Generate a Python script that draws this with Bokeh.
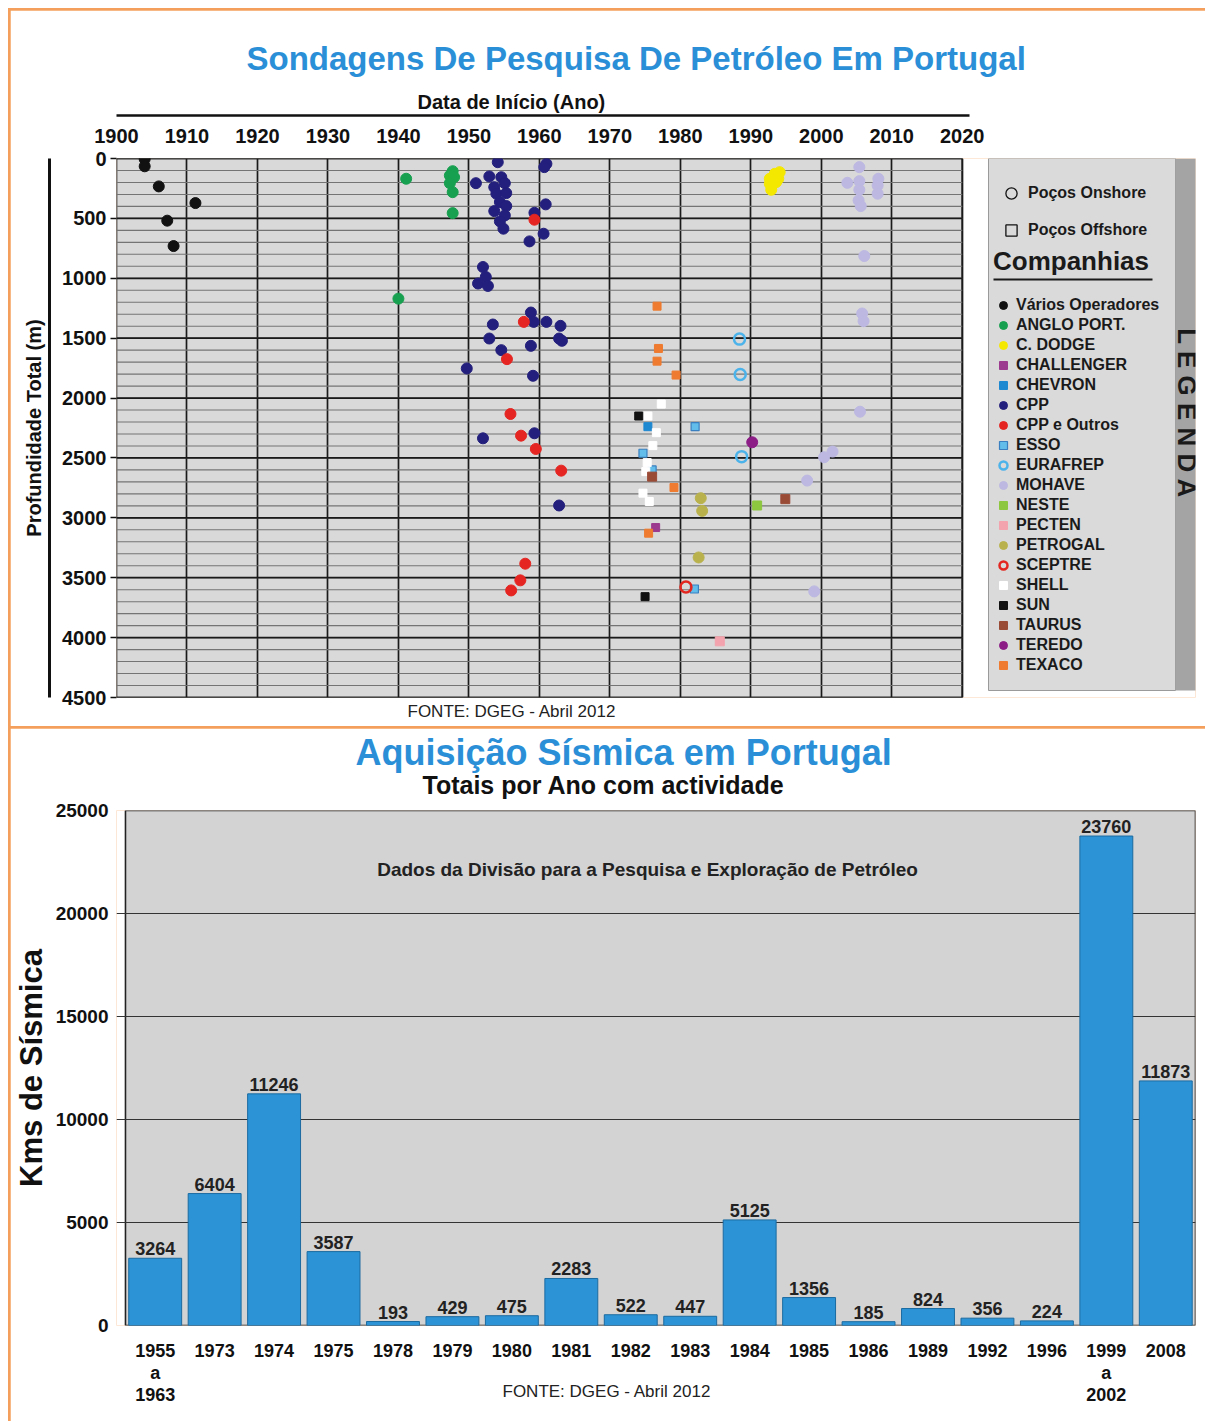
import math
from bokeh.plotting import figure
from bokeh.layouts import column
from bokeh.core.properties import value
from bokeh.models import (LinearAxis, FixedTicker, Grid, Title, Legend, Range1d,
                          LegendItem, BoxAnnotation, Label, LabelSet, ColumnDataSource)
from bokeh.embed import file_html
from bokeh.resources import INLINE

FONT = "Liberation Sans"
AZUL = "#2b8fd8"
LARANJA = "#f4a05c"
NAN = float("nan")

# ---------------- Sondagens (ano de início, profundidade total m) ----------------
anos_ticks = [1900, 1910, 1920, 1930, 1940, 1950, 1960, 1970, 1980, 1990, 2000, 2010, 2020]
prof_ticks = [0, 500, 1000, 1500, 2000, 2500, 3000, 3500, 4000, 4500]
prof_minor = [i * 100 for i in range(46)]

varios_ano = [1904.0, 1904.0, 1906.0, 1911.2, 1907.2, 1908.1]
varios_prof = [5, 65, 233, 372, 519, 731]

anglo_ano = [1941.1, 1947.7, 1947.3, 1947.9, 1947.3, 1947.7, 1947.7, 1940.0]
anglo_prof = [169, 106, 142, 156, 206, 281, 456, 1170]

dodge_ano = [1994.1, 1993.4, 1992.7, 1993.9, 1992.7, 1993.6, 1992.9]
dodge_prof = [114, 128, 169, 169, 211, 197, 261]

challenger_ano = [1976.5]
challenger_prof = [3081]

chevron_ano = [1975.4]
chevron_prof = [2239]

cpp_ano = [1954.1, 1952.9, 1951.0, 1954.6, 1955.1, 1953.6, 1953.9, 1955.3, 1954.4, 1955.3,
           1953.6, 1955.1, 1954.4, 1954.9, 1961.0, 1960.7, 1960.9, 1959.3, 1960.6, 1958.6,
           1952.0, 1952.4, 1951.3, 1952.7, 1958.8, 1959.2, 1961.0, 1963.0, 1953.4, 1952.9,
           1962.8, 1963.2, 1954.6, 1958.8, 1949.7, 1959.1, 1959.3, 1952.0, 1962.8]
cpp_prof = [31, 150, 206, 156, 206, 239, 294, 289, 364, 397,
            439, 475, 525, 586, 44, 72, 383, 453, 628, 692,
            906, 989, 1044, 1064, 1286, 1364, 1364, 1397, 1386, 1503,
            1503, 1522, 1600, 1564, 1753, 1814, 2294, 2336, 2897]

cppo_ano = [1959.3, 1957.8, 1955.4, 1955.9, 1957.4, 1959.5, 1963.1, 1958.0, 1957.3, 1956.0]
cppo_prof = [511, 1364, 1675, 2133, 2314, 2425, 2606, 3383, 3522, 3606]

esso_ano = [1982.0, 1982.1, 1974.7, 1976.0]
esso_prof = [3594, 2239, 2461, 2600]

eurafrep_ano = [1988.4, 1988.5, 1988.7]
eurafrep_prof = [1508, 1803, 2489]

mohave_ano = [2005.4, 2003.7, 2005.4, 2005.4, 2005.3, 2005.6, 2008.1, 2008.0, 2008.0, 2006.1,
              2005.8, 2006.0, 2005.5, 2001.6, 2000.4, 1998.0, 1999.0]
mohave_prof = [72, 203, 189, 261, 350, 397, 169, 225, 294, 814,
               1294, 1358, 2114, 2447, 2494, 2689, 3614]

neste_ano = [1990.9]
neste_prof = [2897]

pecten_ano = [1985.6]
pecten_prof = [4031]

petrogal_ano = [1982.9, 1983.1, 1982.6]
petrogal_prof = [2836, 2942, 3331]

sceptre_ano = [1980.8]
sceptre_prof = [3578]

shell_ano = [1977.3, 1975.4, 1976.6, 1976.1, 1975.3, 1975.1, 1974.7, 1975.6]
shell_prof = [2050, 2150, 2289, 2397, 2539, 2614, 2794, 2864]

sun_ano = [1974.1, 1975.0]
sun_prof = [2150, 3658]

taurus_ano = [1976.0, 1994.9]
taurus_prof = [2656, 2844]

teredo_ano = [1990.2]
teredo_prof = [2369]

texaco_ano = [1976.7, 1976.9, 1976.7, 1979.4, 1979.1, 1975.5]
texaco_prof = [1233, 1586, 1692, 1808, 2747, 3128]

# ---------------- Aquisição sísmica ----------------
sismica_anos = ["1955\na\n1963", "1973", "1974", "1975", "1978", "1979", "1980", "1981", "1982",
                "1983", "1984", "1985", "1986", "1989", "1992", "1996", "1999\na\n2002", "2008"]
sismica_kms = [3264, 6404, 11246, 3587, 193, 429, 475, 2283, 522, 447, 5125, 1356, 185, 824,
               356, 224, 23760, 11873]
kms_ticks = [0, 5000, 10000, 15000, 20000, 25000]

# =============== Figure 1 : sondagens ===============
ano0, ano1 = anos_ticks[0], anos_ticks[-1]
# extra room on the right of the data area (inside the frame) for the legend panel
p1 = figure(width=1195, height=716, x_range=Range1d(ano0, 2053.1), y_range=(4500, 0),
            x_axis_location=None, y_axis_location=None, output_backend="svg",
            toolbar_location=None, min_border_left=103, min_border_right=10,
            min_border_top=148, min_border_bottom=29, background_fill_color="white",
            outline_line_color=None)
p1.grid.visible = False

p1.add_layout(BoxAnnotation(left=ano0, right=ano1, top=prof_ticks[0], bottom=prof_ticks[-1],
                            fill_color="#d9d9d9", fill_alpha=1, line_color="#111111",
                            line_alpha=1, line_width=1.6, level="image"))
p1.add_layout(Grid(dimension=0, ticker=FixedTicker(ticks=anos_ticks),
                   grid_line_color="#1a1a1a", grid_line_width=1.7))
p1.segment(x0=ano0, x1=ano1, y0=prof_minor, y1=prof_minor, line_color="#747474", line_width=1.1)
p1.segment(x0=ano0, x1=ano1, y0=prof_ticks, y1=prof_ticks, line_color="#1a1a1a", line_width=1.7)

ax_y = LinearAxis(ticker=FixedTicker(ticks=prof_ticks), axis_line_color=None,
                  major_tick_out=6, major_tick_in=0, major_tick_line_color="#111111",
                  major_tick_line_width=1.5, minor_tick_line_color=None,
                  major_label_standoff=4, major_label_text_font=FONT,
                  major_label_text_font_style="bold", major_label_text_font_size="20px",
                  major_label_text_color="#111111", axis_label=" ",
                  axis_label_text_font_size="5px", axis_label_standoff=1)
p1.add_layout(ax_y, "left")
ax_y2 = LinearAxis(ticker=FixedTicker(ticks=[]), axis_line_color="#111111", axis_line_width=3,
                   major_tick_line_color=None, minor_tick_line_color=None,
                   axis_label="Profundidade Total (m)", axis_label_standoff=5,
                   axis_label_text_font=FONT, axis_label_text_font_style="bold",
                   axis_label_text_font_size="20px", axis_label_text_color="#111111")
p1.add_layout(ax_y2, "left")

ax_x = LinearAxis(ticker=FixedTicker(ticks=anos_ticks), axis_line_color=None,
                  major_tick_line_color=None, minor_tick_line_color=None,
                  major_label_standoff=10, major_label_text_font=FONT,
                  major_label_text_font_style="bold", major_label_text_font_size="20px",
                  major_label_text_color="#111111", axis_label=" ",
                  axis_label_text_font_size="6px", axis_label_standoff=1)
p1.add_layout(ax_x, "above")
ax_x2 = LinearAxis(ticker=FixedTicker(ticks=[]), axis_line_color="#111111", axis_line_width=2.5,
                   major_tick_line_color=None, minor_tick_line_color=None,
                   bounds=(ano0, ano1 + 1))
p1.add_layout(ax_x2, "above")
p1.add_layout(Title(text="Data de Início (Ano)", align="left", offset=301, text_font=FONT,
                    text_font_size="20px", text_font_style="bold", text_color="#111111",
                    standoff=6), "above")
p1.add_layout(Title(text="Sondagens De Pesquisa De Petróleo Em Portugal", align="left",
                    offset=130, text_font=FONT, text_font_size="33px", text_font_style="bold",
                    text_color=AZUL, standoff=17), "above")
p1.add_layout(Title(text="FONTE: DGEG - Abril 2012", align="left", offset=291, text_font=FONT,
                    text_font_size="17px", text_font_style="normal", text_color="#222222",
                    standoff=4), "below")

# legend background box + strip (screen units, relative to the frame)
p1.add_layout(BoxAnnotation(left=872, right=1059, bottom=7, top=539, left_units="screen",
                            right_units="screen", bottom_units="screen", top_units="screen",
                            fill_color="#dadada", fill_alpha=1, line_color="#9a9a9a",
                            line_alpha=1, line_width=1))
p1.add_layout(BoxAnnotation(left=1059, right=1082, bottom=7, top=539, left_units="screen",
                            right_units="screen", bottom_units="screen", top_units="screen",
                            fill_color="#a4a4a4", fill_alpha=1, line_alpha=0))
p1.add_layout(Label(x=1070.5, y=284, x_units="screen", y_units="screen", text="L E G E N D A",
                    angle=-math.pi / 2, text_align="center", text_baseline="middle",
                    text_font=FONT, text_font_size="26px", text_font_style="bold",
                    text_color="#1a1a1a"))

companhias = [
    ("Vários Operadores", varios_ano, varios_prof, "circle", "#111111", "#111111", 11, 1),
    ("ANGLO PORT.", anglo_ano, anglo_prof, "circle", "#17a04f", "#17a04f", 11, 1),
    ("C. DODGE", dodge_ano, dodge_prof, "circle", "#f5e800", "#f5e800", 11, 1),
    ("CHALLENGER", challenger_ano, challenger_prof, "square", "#9b3a8e", "#9b3a8e", 8, 1),
    ("CHEVRON", chevron_ano, chevron_prof, "square", "#1e88d0", "#1e88d0", 8, 1),
    ("CPP", cpp_ano, cpp_prof, "circle", "#231f7c", "#231f7c", 11, 1),
    ("CPP e Outros", cppo_ano, cppo_prof, "circle", "#e52521", "#e52521", 11, 1),
    ("ESSO", esso_ano, esso_prof, "square", "#62bdea", "#3a80c0", 8, 1.2),
    ("EURAFREP", eurafrep_ano, eurafrep_prof, "circle", None, "#4cb2ea", 11, 2.5),
    ("MOHAVE", mohave_ano, mohave_prof, "circle", "#bcb8e2", "#bcb8e2", 11, 1),
    ("NESTE", neste_ano, neste_prof, "square", "#8dc63f", "#8dc63f", 9, 1),
    ("PECTEN", pecten_ano, pecten_prof, "square", "#f2a3ad", "#f2a3ad", 9, 1),
    ("PETROGAL", petrogal_ano, petrogal_prof, "circle", "#b9b24c", "#b9b24c", 11, 1),
    ("SCEPTRE", sceptre_ano, sceptre_prof, "circle", None, "#e3261f", 11, 2.5),
    ("SHELL", shell_ano, shell_prof, "square", "#ffffff", "#ffffff", 8, 1),
    ("SUN", sun_ano, sun_prof, "square", "#111111", "#111111", 8, 1),
    ("TAURUS", taurus_ano, taurus_prof, "square", "#9a4b36", "#9a4b36", 9, 1),
    ("TEREDO", teredo_ano, teredo_prof, "circle", "#8c1c86", "#8c1c86", 11, 1),
    ("TEXACO", texaco_ano, texaco_prof, "square", "#ee7b30", "#ee7b30", 8, 1),
]

items = []
for nome, xs, ys, mk, fc, lc, sz, lw in companhias:
    src = ColumnDataSource(dict(ano=xs, prof=ys))
    r = p1.scatter(x="ano", y="prof", source=src, marker=mk, size=sz,
                   fill_color=fc, line_color=lc, line_width=lw)
    items.append(LegendItem(label=nome, renderers=[r]))

# symbol-only renderers for the well-type keys (no visible data)
r_on = p1.scatter(x=[NAN], y=[NAN], marker="circle", size=10, fill_color=None,
                  line_color="#111111", line_width=1.3)
r_off = p1.scatter(x=[NAN], y=[NAN], marker="square", size=10, fill_color=None,
                   line_color="#111111", line_width=1.3)

leg_a = Legend(items=[LegendItem(label="Poços Onshore", renderers=[r_on], index=0),
                      LegendItem(label="Poços Offshore", renderers=[r_off], index=0)],
               location=(881, 453), padding=0, margin=0, spacing=9,
               glyph_width=28, glyph_height=28, label_height=28, label_standoff=3,
               label_text_font=FONT, label_text_font_style="bold",
               label_text_font_size="16px", label_text_color="#1a1a1a",
               background_fill_alpha=0, border_line_alpha=0)
p1.add_layout(leg_a)

leg_b = Legend(items=items, location=(877, 22), padding=0, margin=0, spacing=0,
               glyph_width=20, glyph_height=20, label_height=20, label_standoff=3,
               label_text_font=FONT, label_text_font_style="bold",
               label_text_font_size="16px", label_text_color="#1a1a1a",
               title="Companhias", title_text_font=FONT, title_text_font_size="26px",
               title_text_font_style="bold", title_text_color="#1a1a1a", title_standoff=18,
               background_fill_alpha=0, border_line_alpha=0)
p1.add_layout(leg_b)

p1.add_layout(BoxAnnotation(left=877, right=1036, bottom=417, top=419, left_units="screen",
                            right_units="screen", bottom_units="screen", top_units="screen",
                            fill_color="#1a1a1a", fill_alpha=1, line_alpha=0))

# =============== Figure 2 : sísmica ===============
sismica_pos = list(range(len(sismica_anos)))
p2 = figure(width=1195, height=693, x_range=Range1d(-0.651, len(sismica_anos) - 0.5),
            y_range=(kms_ticks[0], kms_ticks[-1]),
            x_axis_location=None, y_axis_location=None, output_backend="svg",
            toolbar_location=None, min_border_left=103, min_border_right=10,
            min_border_top=82, min_border_bottom=96, background_fill_color="white",
            outline_line_color=None)
p2.grid.visible = False
p2.add_layout(BoxAnnotation(left=-0.5, right=len(sismica_anos) - 0.5, bottom=kms_ticks[0],
                            top=kms_ticks[-1], fill_color="#d3d3d3", fill_alpha=1,
                            line_color="#222222", line_alpha=1, line_width=1.6, level="image"))
p2.add_layout(Grid(dimension=1, ticker=FixedTicker(ticks=kms_ticks),
                   grid_line_color="#333333", grid_line_width=1.1))

ax2y = LinearAxis(ticker=FixedTicker(ticks=kms_ticks), axis_line_color=None,
                  major_tick_line_color=None, minor_tick_line_color=None,
                  major_label_standoff=2,
                  major_label_text_font=FONT, major_label_text_font_style="bold",
                  major_label_text_font_size="19px", major_label_text_color="#111111",
                  axis_label="Kms de Sísmica", axis_label_standoff=4,
                  axis_label_text_font=FONT, axis_label_text_font_style="bold",
                  axis_label_text_font_size="31px", axis_label_text_color="#111111")
p2.add_layout(ax2y, "left")
ax2x = LinearAxis(ticker=FixedTicker(ticks=sismica_pos), axis_line_color=None,
                  major_tick_line_color=None, minor_tick_line_color=None,
                  major_label_standoff=9,
                  major_label_overrides={i: lab for i, lab in zip(sismica_pos, sismica_anos)},
                  major_label_text_font=FONT, major_label_text_font_style="bold",
                  major_label_text_font_size="18px", major_label_text_color="#111111",
                  major_label_text_line_height=1.1)
p2.add_layout(ax2x, "below")

src2 = ColumnDataSource(dict(pos=sismica_pos, kms=sismica_kms,
                             rotulo=[str(v) for v in sismica_kms]))
p2.vbar(x="pos", top="kms", width=0.89, source=src2, fill_color="#2c94d6",
        line_color="#1b6aa0", line_width=1)
p2.add_layout(LabelSet(x="pos", y="kms", text="rotulo", source=src2, y_offset=3,
                       text_align="center", text_baseline="bottom", text_font=value(FONT),
                       text_font_size="18px", text_font_style="bold", text_color="#222222"))

p2.add_layout(Title(text="Totais por Ano com actividade", align="left", offset=306,
                    text_font=FONT, text_font_size="25px", text_font_style="bold",
                    text_color="#111111", standoff=23), "above")
p2.add_layout(Title(text="Aquisição Sísmica em Portugal", align="left", offset=239,
                    text_font=FONT, text_font_size="36px", text_font_style="bold",
                    text_color=AZUL, standoff=-30), "above")
p2.add_layout(Title(text="FONTE: DGEG - Abril 2012", align="left", offset=386, text_font=FONT,
                    text_font_size="17px", text_font_style="normal", text_color="#222222",
                    vertical_align="top", standoff=-52), "below")

p2.add_layout(Label(x=531, y=456, x_units="screen", y_units="screen",
                    text="Dados da Divisão para a Pesquisa e Exploração de Petróleo",
                    text_align="center", text_baseline="middle", text_font=FONT,
                    text_font_size="19px", text_font_style="bold", text_color="#222222"))

p1.margin = (2, 0, 0, 2)
p2.margin = (2, 0, 0, 2)
layout = column(p1, p2, spacing=0, styles={"background-color": LARANJA})
layout.margin = (8, 0, 0, 8)

open("out.html", "w").write(file_html(layout, INLINE))
